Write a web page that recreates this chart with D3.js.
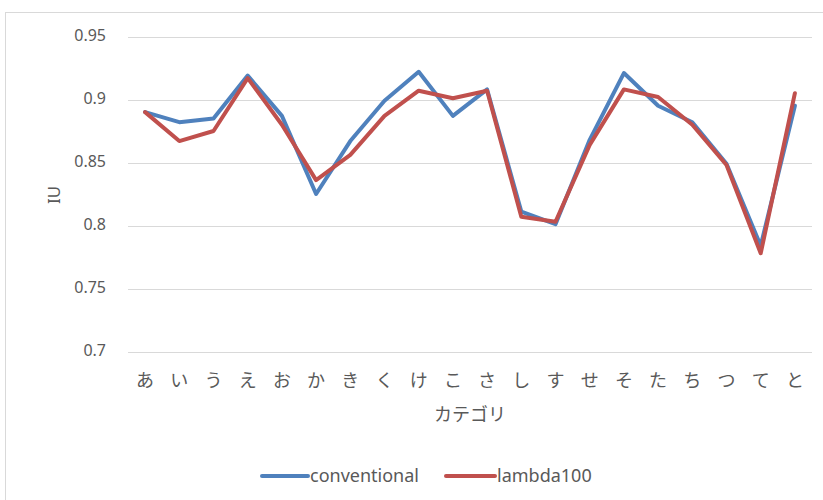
<!DOCTYPE html>
<html>
<head>
<meta charset="utf-8">
<script src="https://cdn.jsdelivr.net/npm/d3@7"></script>
<style>
  html, body { margin: 0; padding: 0; background: #fff; }
  svg text { font-family: "Noto Sans CJK JP", "Noto Sans", sans-serif; fill: #595959; }
</style>
</head>
<body>
<svg id="chart" width="823" height="500"></svg>
<script>
// Categories along the x axis
const categories = ["あ","い","う","え","お","か","き","く","け","こ","さ","し","す","せ","そ","た","ち","つ","て","と"];
// IU per category for each method
const conventional = [0.890, 0.882, 0.885, 0.919, 0.887, 0.825, 0.867, 0.899, 0.922, 0.887, 0.908, 0.811, 0.801, 0.868, 0.921, 0.895, 0.882, 0.849, 0.784, 0.895];
const lambda100    = [0.890, 0.867, 0.875, 0.917, 0.880, 0.836, 0.856, 0.887, 0.907, 0.901, 0.907, 0.807, 0.803, 0.864, 0.908, 0.902, 0.880, 0.848, 0.778, 0.905];
const yTicks = [0.7, 0.75, 0.8, 0.85, 0.9, 0.95];
const seriesNames = ["conventional", "lambda100"];
const seriesColors = ["#4F81BD", "#C0504D"];

const svg = d3.select("#chart");

// outer chart frame
svg.append("rect")
  .attr("x", 5.5).attr("y", 12.5)
  .attr("width", 830).attr("height", 500)
  .attr("fill", "none").attr("stroke", "#d9d9d9");

const plot = { left: 128, right: 812, top: 36.5, bottom: 351.5 };

const x = d3.scaleBand().domain(categories).range([plot.left, plot.right]);
const y = d3.scaleLinear().domain([0.7, 0.95]).range([plot.bottom, plot.top]);

// horizontal gridlines and y tick labels
const yAxis = d3.axisLeft(y).tickValues(yTicks).tickSize(-(plot.right - plot.left)).tickPadding(22)
  .tickFormat(d => String(+d.toFixed(2)));
const gy = svg.append("g").attr("transform", `translate(${plot.left},0)`).call(yAxis);
gy.select(".domain").remove();
gy.selectAll(".tick line").attr("stroke", "#d9d9d9").attr("stroke-width", 1)
  .attr("shape-rendering", "crispEdges");
gy.selectAll(".tick text").attr("font-size", 16).style("font-family", "'Noto Sans', sans-serif")
  .attr("fill", "#595959").attr("dy", "0.28em");

// category labels
const xAxis = d3.axisBottom(x).tickSize(0).tickPadding(23);
const gx = svg.append("g").attr("transform", `translate(0,${plot.bottom})`).call(xAxis);
gx.select(".domain").remove();
gx.selectAll(".tick text").attr("font-size", 18).attr("fill", "#595959")
  .style("font-family", "'Noto Sans CJK JP', sans-serif");

// axis titles
svg.append("text")
  .attr("x", (plot.left + plot.right) / 2).attr("y", 421)
  .attr("text-anchor", "middle").attr("font-size", 18).text("カテゴリ");
svg.append("text")
  .attr("transform", "translate(60,195) rotate(-90)")
  .attr("text-anchor", "middle").attr("font-size", 17)
  .style("font-family", "'Noto Sans', sans-serif").text("IU");

// lines
const line = d3.line()
  .x((d, i) => x(categories[i]) + x.bandwidth() / 2)
  .y(d => y(d));
[conventional, lambda100].forEach((vals, k) => {
  svg.append("path")
    .datum(vals)
    .attr("d", line)
    .attr("fill", "none")
    .attr("stroke", seriesColors[k])
    .attr("stroke-width", 4)
    .attr("stroke-linejoin", "round")
    .attr("stroke-linecap", "round");
});

// legend
const legendItems = [
  { x1: 262, x2: 308, tx: 310 },
  { x1: 446, x2: 495, tx: 497 }
];
legendItems.forEach((it, k) => {
  svg.append("line")
    .attr("x1", it.x1).attr("x2", it.x2).attr("y1", 476).attr("y2", 476)
    .attr("stroke", seriesColors[k]).attr("stroke-width", 4).attr("stroke-linecap", "round");
  svg.append("text")
    .attr("x", it.tx).attr("y", 482)
    .attr("font-size", 18).style("font-family", "'Noto Sans', sans-serif")
    .text(seriesNames[k]);
});
</script>
</body>
</html>
